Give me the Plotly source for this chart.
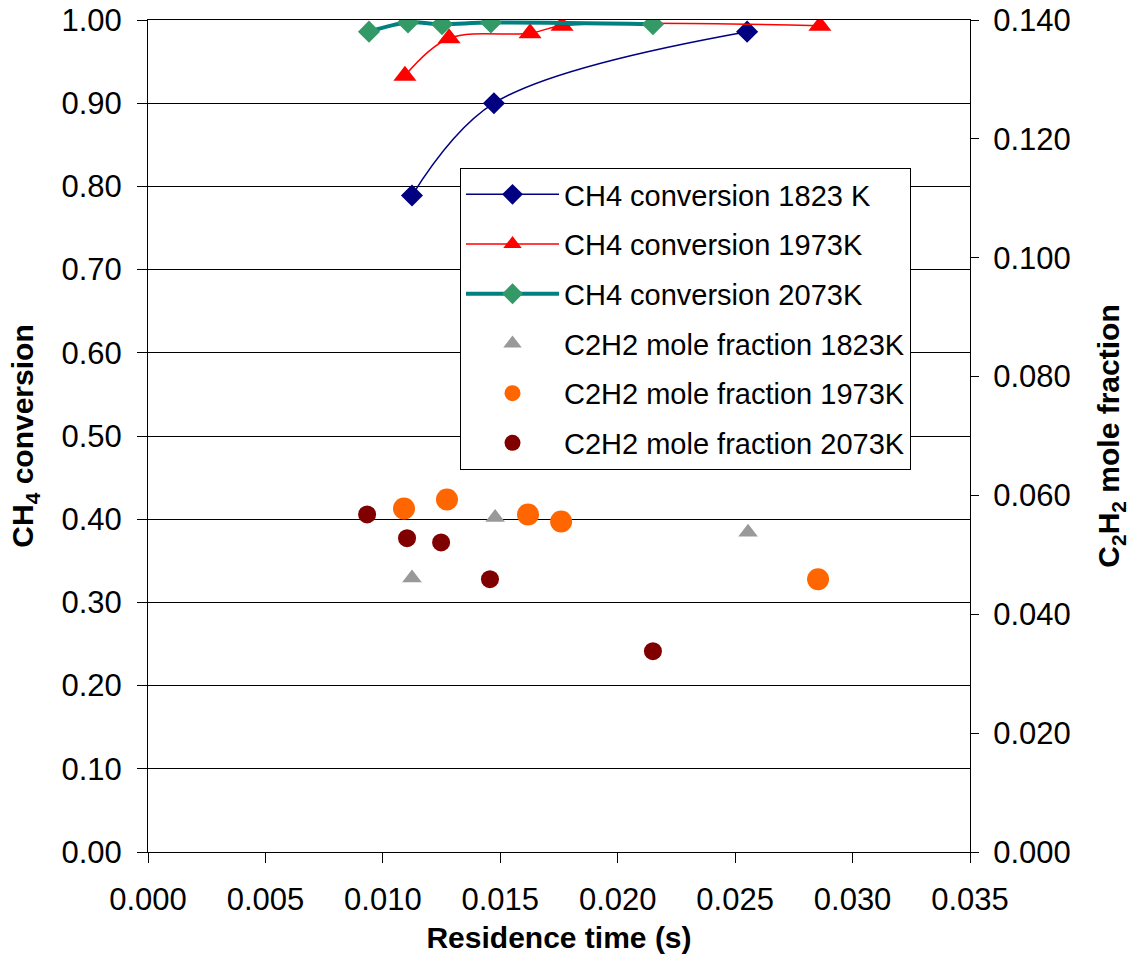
import plotly.graph_objects as go

# CH4 conversion (left axis)
t_1823 = [0.01124, 0.01473, 0.02551]
conv_1823 = [0.789, 0.900, 0.986]

t_1973 = [0.01094, 0.01282, 0.01627, 0.01763, 0.02861]
conv_1973 = [0.933, 0.978, 0.984, 0.993, 0.993]

t_2073 = [0.00941, 0.01107, 0.01252, 0.01460, 0.02150]
conv_2073 = [0.986, 0.997, 0.995, 0.997, 0.995]

# C2H2 mole fraction (right axis)
tc_1823 = [0.01124, 0.01478, 0.02555]
c2h2_1823 = [0.0461, 0.0563, 0.0538]

tc_1973 = [0.01090, 0.01273, 0.01618, 0.01759, 0.02853]
c2h2_1973 = [0.0578, 0.0593, 0.0568, 0.0556, 0.0459]

tc_2073 = [0.00933, 0.01103, 0.01248, 0.01456, 0.02150]
c2h2_2073 = [0.0568, 0.0528, 0.0521, 0.0459, 0.0338]

FONT = "Liberation Sans, Arial, sans-serif"

fig = go.Figure()

fig.add_trace(go.Scatter(
    x=t_1823, y=conv_1823, name="CH4 conversion 1823 K", legendgroup="a",
    mode="lines+markers", line=dict(color="#000080", width=1.5, shape="spline"),
    marker=dict(symbol="diamond", size=17, color="#000080")))
fig.add_trace(go.Scatter(
    x=t_1973, y=conv_1973, name="CH4 conversion 1973K", legendgroup="b",
    mode="lines+markers", line=dict(color="#FF0000", width=1.5, shape="spline"),
    marker=dict(symbol="triangle-up", size=20, color="#FF0000")))
fig.add_trace(go.Scatter(
    x=t_2073, y=conv_2073, name="CH4 conversion 2073K", legendgroup="c",
    mode="lines+markers", line=dict(color="#008080", width=4, shape="spline"),
    marker=dict(symbol="diamond", size=17, color="#339966")))
fig.add_trace(go.Scatter(
    x=tc_1823, y=c2h2_1823, name="C2H2 mole fraction 1823K", legendgroup="d",
    mode="markers", yaxis="y2",
    marker=dict(symbol="triangle-up", size=17, color="#999999")))
fig.add_trace(go.Scatter(
    x=tc_1973, y=c2h2_1973, name="C2H2 mole fraction 1973K", legendgroup="e",
    mode="markers", yaxis="y2",
    marker=dict(symbol="circle", size=22, color="#FF6600")))
fig.add_trace(go.Scatter(
    x=tc_2073, y=c2h2_2073, name="C2H2 mole fraction 2073K", legendgroup="f",
    mode="markers", yaxis="y2",
    marker=dict(symbol="circle", size=18, color="#800000")))

fig.update_layout(
    width=1131, height=960,
    margin=dict(l=148, r=161, t=20, b=108),
    paper_bgcolor="white", plot_bgcolor="white",
    font=dict(family=FONT, color="black", size=31),
    showlegend=True,
    legend=dict(
        x=(460 - 148) / 822, y=(852 - 168) / 832, xanchor="left", yanchor="top",
        bgcolor="white", bordercolor="black", borderwidth=1,
        font=dict(size=29, family=FONT, color="black"),
        tracegroupgap=9, itemwidth=93,
    ),
    xaxis=dict(
        range=[0, 0.035], dtick=0.005, tick0=0, tickformat=".3f",
        showgrid=False, zeroline=False, automargin=False,
        showline=True, linecolor="black", linewidth=1, mirror=True,
        ticks="outside", ticklen=10, tickcolor="black",
        ticklabelstandoff=10, ticklabeloverflow="allow",
        title=dict(text="<b>Residence time (s)</b>", font=dict(size=30), standoff=10),
    ),
    yaxis=dict(
        range=[0, 1.0], dtick=0.1, tick0=0, tickformat=".2f",
        showgrid=True, gridcolor="black", gridwidth=1, zeroline=False, automargin=False,
        showline=True, linecolor="black", linewidth=1,
        ticks="outside", ticklen=10, tickcolor="black",
        ticklabelstandoff=9, ticklabeloverflow="allow",
        title=dict(text="<b>CH<sub>4</sub> conversion</b>", font=dict(size=30), standoff=18),
    ),
    yaxis2=dict(
        range=[0, 0.14], dtick=0.02, tick0=0, tickformat=".3f",
        overlaying="y", side="right", anchor="x", automargin=False,
        showgrid=False, zeroline=False,
        showline=True, linecolor="black", linewidth=1,
        ticks="outside", ticklen=8, tickcolor="black",
        ticklabelstandoff=8, ticklabeloverflow="allow",
        title=dict(text="<b>C<sub>2</sub>H<sub>2</sub> mole fraction</b>", font=dict(size=30), standoff=28),
    ),
)

# remove the default 8px page margin so the figure fills the window exactly
fig.write_html("out.html", config={"displayModeBar": False},
               post_script="document.body.style.margin='0px';")
